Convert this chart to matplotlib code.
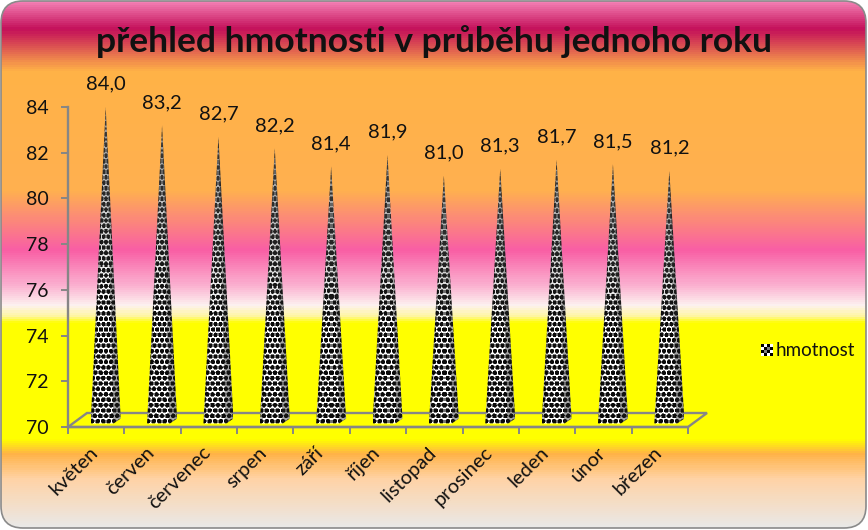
import matplotlib
matplotlib.use('Agg')
import matplotlib.pyplot as plt
from matplotlib.colors import LinearSegmentedColormap
from matplotlib.patches import FancyBboxPatch, Polygon
import numpy as np

plt.rcParams['font.family'] = ['Lato', 'DejaVu Sans']

months = ['květen', 'červen', 'červenec', 'srpen', 'září', 'říjen', 'listopad',
          'prosinec', 'leden', 'únor', 'březen']
weight = [84.0, 83.2, 82.7, 82.2, 81.4, 81.9, 81.0, 81.3, 81.7, 81.5, 81.2]
y_ticks = [70, 72, 74, 76, 78, 80, 82, 84]

W, H = 868, 530

# background stops: pixel row from the top, colour
bg_rows = [2, 28, 70, 190, 250, 285, 306, 316, 323, 440, 455, 480, 528]
bg_cols = ['#f47fb4', '#c4105a', '#ffb347', '#ffb050', '#f95fa5', '#fbb0d0',
           '#fdf2f0', '#fff6a0', '#ffff00', '#ffff00', '#ffb347', '#ffd3a6', '#e9e9e9']


def cone_texture(height_px, width_px):
    # dots on a pixel grid, squeezed a bit and going grey towards the top
    yy, xx = np.mgrid[0:height_px, 0:width_px] + 0.5
    frac = yy / height_px  # 0 at top, 1 at base
    half = np.maximum(frac * width_px / 2, 0.5)
    u = np.clip((xx - width_px / 2) / half, -1, 1)
    cell = 3.6 + 2.0 * frac
    a = (xx - width_px / 2) / cell
    b = (height_px - yy) / 5.4
    shift = np.floor(b) % 2 * 0.5
    da = ((a + shift) % 1) - 0.5
    db = (b % 1) - 0.5
    dist = np.sqrt(da ** 2 + db ** 2)
    grey = np.where(dist < 0.37, 0.04, 1.0)
    grey = np.where((dist >= 0.37) & (dist < 0.48), 0.45, grey)
    mix = np.clip((frac - 0.03) / 0.6, 0, 1)
    grey = grey * (0.35 + 0.65 * mix) + 0.22 * (1 - mix)
    # shadow on the right side, thin dark edge on the left
    shade = np.where(u > 0.4, 1 - (u - 0.4) * 0.9, 1.0)
    shade = np.where(u < -0.85, 0.7, shade)
    grey = grey * shade
    grey = np.where(u > 0.5, np.minimum(grey, 0.6) + 0.05, grey)
    return np.clip(grey, 0, 1)


fig = plt.figure(figsize=(W / 100, H / 100), dpi=100)
fig.patch.set_facecolor('white')

# rounded gradient background
bg = fig.add_axes([0, 0, 1, 1])
bg.set_xlim(0, W)
bg.set_ylim(H, 0)
bg.axis('off')
stops = [r / H for r in bg_rows]
stops[0] = 0.0
stops[-1] = 1.0
cmap = LinearSegmentedColormap.from_list('bg', list(zip(stops, bg_cols)))
grad = np.linspace(0, 1, H).reshape(-1, 1)
im = bg.imshow(grad, cmap=cmap, extent=[0, W, H, 0], aspect='auto', vmin=0, vmax=1)
frame = FancyBboxPatch((1, 1), W - 3, H - 3, boxstyle='round,pad=0,rounding_size=22',
                       facecolor='none', edgecolor='#8a8a8a', linewidth=1.2)
bg.add_patch(frame)
im.set_clip_path(frame)

# main plot
left, right, top, bottom = 68, 688, 107, 427
ax = fig.add_axes([left / W, 1 - bottom / H, (right - left) / W, (bottom - top) / H])
ax.patch.set_alpha(0)
ax.set_xlim(-0.5, len(months) - 0.5)
ax.set_ylim(70, 84)
for s in ['top', 'right']:
    ax.spines[s].set_visible(False)
for s in ['left', 'bottom']:
    ax.spines[s].set_color('#868686')
    ax.spines[s].set_linewidth(1.7)
ax.set_yticks(y_ticks)
ax.set_yticklabels([str(t) for t in y_ticks], fontsize=14, color='#111111')
ax.set_xticks(np.arange(len(months) + 1) - 0.5, minor=False)
ax.set_xticklabels([''] * (len(months) + 1))
ax.tick_params(axis='both', color='#868686', width=1.4, length=5)
ax.tick_params(axis='y', pad=9)

# floor of the 3D box
px_x = (len(months)) / (right - left)
px_y = 14 / (bottom - top)
dx, dy = 19 * px_x, 14 * px_y
x0, x1 = -0.5, len(months) - 0.5
floor = Polygon([(x0, 70), (x0 + dx, 70 + dy), (x1 + dx, 70 + dy), (x1, 70)], closed=True,
                facecolor='none', edgecolor='#868686', linewidth=1.7, clip_on=False)
ax.add_patch(floor)

# cones
offset = 9.5 * px_x
half_w = 15 * px_x
base = 70 + 3.5 * px_y
for i, v in enumerate(weight):
    cx = i + offset
    poly = Polygon([(cx - half_w, base), (cx, v), (cx + half_w, base + 5 * px_y),
                    (cx + 8 * px_x, base)],
                   closed=True, facecolor='none', edgecolor='none', clip_on=False)
    ax.add_patch(poly)
    h_px = int(round((v - base) / px_y))
    tex = cone_texture(h_px, 30)
    img = ax.imshow(tex, cmap='gray', vmin=0, vmax=1, aspect='auto', interpolation='nearest',
                    extent=[cx - half_w, cx + half_w, base, v], zorder=3)
    img.set_clip_path(poly)
    ax.text(cx, v + 0.62, f'{v:.1f}'.replace('.', ','), ha='center', va='bottom',
            fontsize=14.5, color='#111111', clip_on=False)
    ax.set_xlim(-0.5, len(months) - 0.5)
    ax.set_ylim(70, 84)

# month labels
for i, m in enumerate(months):
    ax.annotate(m, xy=(i, 70), xytext=(-5, -12), textcoords='offset points', rotation=45,
                ha='right', va='top', rotation_mode='anchor', fontsize=14.5, color='#111111')

fig.text(434 / W, 1 - 42 / H, 'přehled hmotnosti v průběhu jednoho roku', ha='center', va='center',
         fontsize=25.5, fontweight='bold', color='#111111')

# legend
leg = fig.add_axes([761 / W, 1 - 356 / H, 12 / W, 12 / H])
leg.imshow(np.array([[0, 1, 0, 1], [1, 0, 0.5, 0], [0, 0.5, 0, 1], [1, 0, 1, 0]]), cmap='gray',
           interpolation='nearest', aspect='auto')
leg.axis('off')
fig.text(776 / W, 1 - 350 / H, 'hmotnost', ha='left', va='center', fontsize=13.5, color='#111111')

fig.savefig('out.png', dpi=100)
